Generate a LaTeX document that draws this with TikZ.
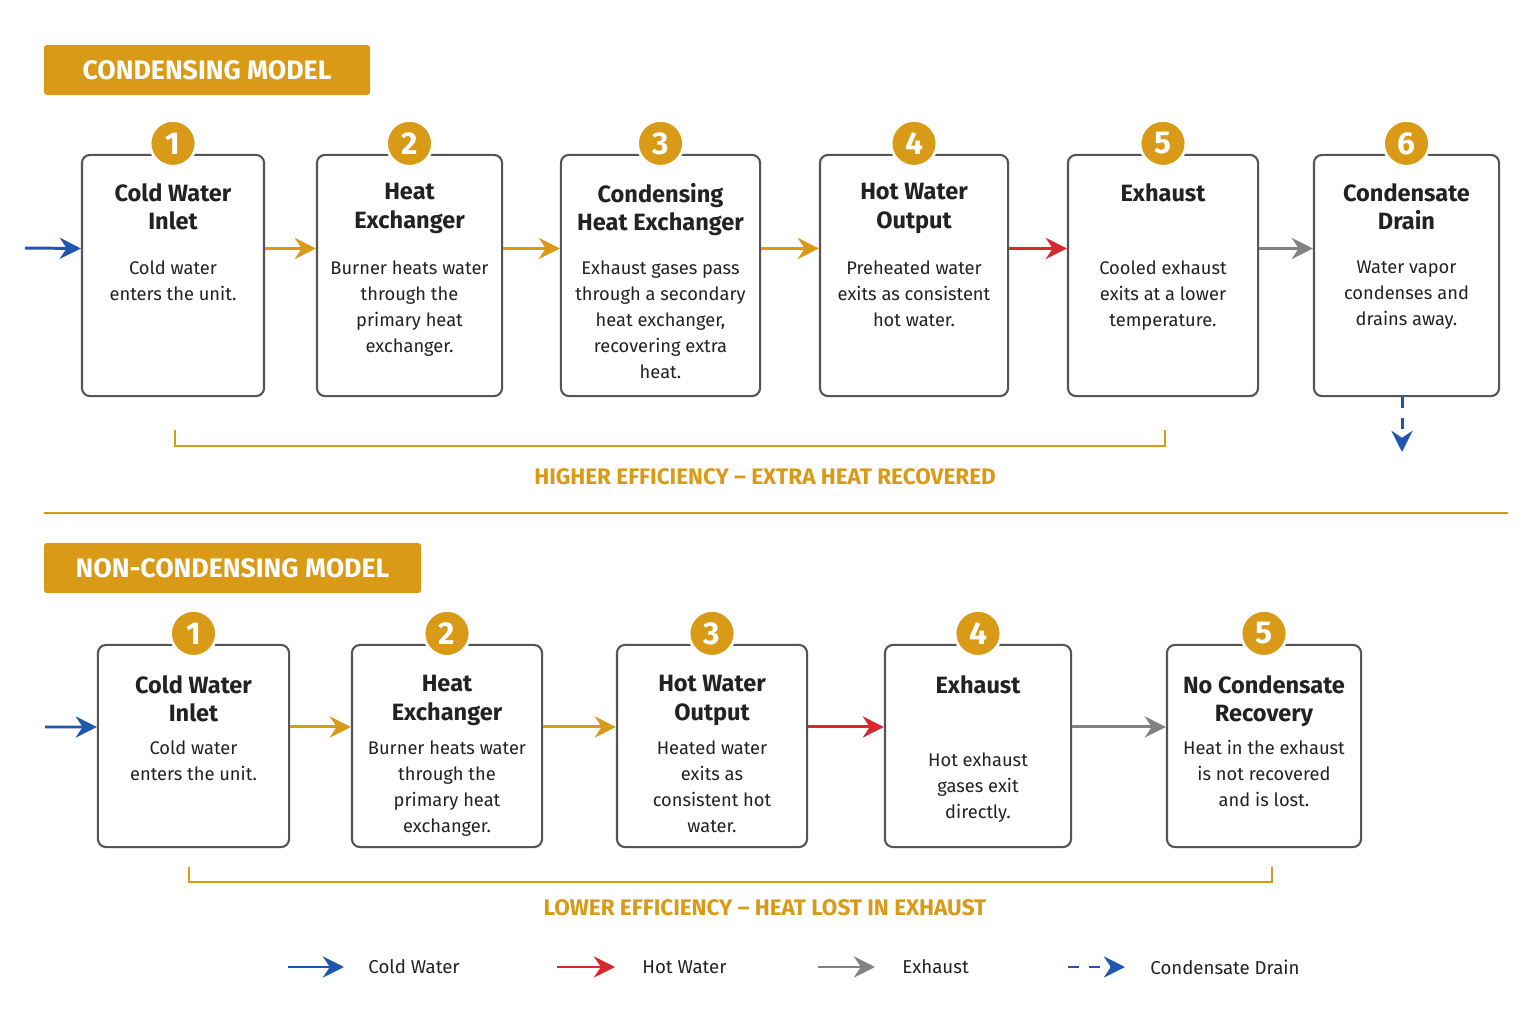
\documentclass[tikz,border=0pt]{standalone}
\usepackage{fontspec}
\setmainfont{Fira Sans}
\usetikzlibrary{arrows.meta,positioning}
\definecolor{gold}{HTML}{D99A17}
\definecolor{cwblue}{HTML}{1F56B0}
\definecolor{hwred}{HTML}{D8282E}
\definecolor{exgray}{HTML}{828282}
\definecolor{boxline}{HTML}{555555}
\definecolor{txt}{HTML}{222222}

\tikzset{
  box/.style={draw=boxline, line width=0.6pt, rounded corners=0.08cm, fill=white},
  num/.style={circle, fill=gold, draw=white, line width=0.8pt, minimum size=0.46cm, inner sep=0pt,
    text=white, font=\fontsize{9}{9}\selectfont\bfseries},
  ttl/.style={anchor=north, align=center, inner sep=0pt, text=txt, font=\fontsize{6.7}{8}\selectfont\bfseries},
  bdy/.style={anchor=north, align=center, inner sep=0pt, text=txt, font=\fontsize{5.2}{7.4}\selectfont},
  flow/.style={line width=0.85pt, -{Stealth[length=6pt,width=6pt]}},
  header/.style={fill=gold, rounded corners=0.03cm, text=white, inner sep=0pt, font=\fontsize{7.6}{9}\selectfont\bfseries},
  brace/.style={draw=gold, line width=0.5pt},
  effic/.style={text=gold, font=\fontsize{6.4}{8}\selectfont\bfseries},
  legend/.style={anchor=west, text=txt, font=\fontsize{5.3}{7}\selectfont}
}

% name, x, y, width, height, number, title, body (offsets from \ttloff, \bdyoff)
\newcommand{\stepbox}[8]{%
  \node[box, minimum width=#4cm, minimum height=#5cm] (#1) at (#2,#3) {};
  \node[num] (#1n) at ([yshift=0.105cm]#1.north) {#6};
  \node[ttl] (#1t) at ([yshift=-\ttloff cm]#1.north) {#7};
  \node[bdy] (#1b) at ([yshift=-\bdyoff cm]#1.north) {#8};
}

\begin{document}
\begin{tikzpicture}[x=0.01cm,y=-0.01cm]
\useasboundingbox (0,0) rectangle (1535,1024);

%Condensing model
\node[header, minimum width=3.26cm, minimum height=0.5cm] (hc) at (207,70) {CONDENSING MODEL};

\def\ttloff{0.29}\def\bdyoff{1.06}
\stepbox{c1}{173}{275.5}{1.82}{2.41}{1}{Cold Water\\Inlet}{Cold water\\enters the unit.}
\stepbox{c2}{409.5}{275.5}{1.85}{2.41}{2}{Heat\\Exchanger}{Burner heats water\\through the\\primary heat\\exchanger.}
\stepbox{c3}{660.5}{275.5}{1.99}{2.41}{3}{Condensing\\Heat Exchanger}{Exhaust gases pass\\through a secondary\\heat exchanger,\\recovering extra\\heat.}
\stepbox{c4}{914}{275.5}{1.88}{2.41}{4}{Hot Water\\Output}{Preheated water\\exits as consistent\\hot water.}
\stepbox{c5}{1163}{275.5}{1.90}{2.41}{5}{Exhaust}{Cooled exhaust\\exits at a lower\\temperature.}
\stepbox{c6}{1406.5}{275.5}{1.85}{2.41}{6}{Condensate\\Drain}{Water vapor\\condenses and\\drains away.}

\coordinate (cin) at (25,248);
\coordinate (cdrain) at (1402,452);
\draw[flow, cwblue] (cin) -- ([yshift=0.27cm]c1.west);
\draw[flow, gold] ([yshift=0.27cm]c1.east) -- ([yshift=0.27cm]c2.west);
\draw[flow, gold] ([yshift=0.27cm]c2.east) -- ([yshift=0.27cm]c3.west);
\draw[flow, gold] ([yshift=0.27cm]c3.east) -- ([yshift=0.27cm]c4.west);
\draw[flow, hwred] ([yshift=0.27cm]c4.east) -- ([yshift=0.27cm]c5.west);
\draw[flow, exgray] ([yshift=0.27cm]c5.east) -- ([yshift=0.27cm]c6.west);
\draw[flow, cwblue, dashed] (c6.south -| cdrain) -- (cdrain);

\draw[brace] (175,430) -- (175,446) -- (1165,446) -- (1165,430);
\node[effic] (ch) at (765,477) {HIGHER EFFICIENCY – EXTRA HEAT RECOVERED};

\draw[gold, line width=0.5pt] (44,513) -- (1508,513);

%Non-condensing model
\node[header, minimum width=3.77cm, minimum height=0.5cm] (hn) at (232.5,568) {NON-CONDENSING MODEL};

\def\ttloff{0.31}\def\bdyoff{0.96}
\stepbox{n1}{193.5}{746}{1.91}{2.02}{1}{Cold Water\\Inlet}{Cold water\\enters the unit.}
\stepbox{n2}{447}{746}{1.90}{2.02}{2}{Heat\\Exchanger}{Burner heats water\\through the\\primary heat\\exchanger.}
\stepbox{n3}{712}{746}{1.90}{2.02}{3}{Hot Water\\Output}{Heated water\\exits as\\consistent hot\\water.}
\stepbox{n4}{978}{746}{1.86}{2.02}{4}{Exhaust}{\\Hot exhaust\\gases exit\\directly.}
\stepbox{n5}{1264}{746}{1.94}{2.02}{5}{No Condensate\\Recovery}{Heat in the exhaust\\is not recovered\\and is lost.}

\coordinate (nin) at (45,727);
\draw[flow, cwblue] (nin) -- ([yshift=0.19cm]n1.west);
\draw[flow, gold] ([yshift=0.19cm]n1.east) -- ([yshift=0.19cm]n2.west);
\draw[flow, gold] ([yshift=0.19cm]n2.east) -- ([yshift=0.19cm]n3.west);
\draw[flow, hwred] ([yshift=0.19cm]n3.east) -- ([yshift=0.19cm]n4.west);
\draw[flow, exgray] ([yshift=0.19cm]n4.east) -- ([yshift=0.19cm]n5.west);

\draw[brace] (189,867) -- (189,882) -- (1272,882) -- (1272,867);
\node[effic] (nl) at (765,908) {LOWER EFFICIENCY – HEAT LOST IN EXHAUST};

%Legend
\coordinate (l1a) at (288,967); \coordinate (l1b) at (344,967);
\coordinate (l2a) at (557,967); \coordinate (l2b) at (615,967);
\coordinate (l3a) at (818,967); \coordinate (l3b) at (875,967);
\coordinate (l4a) at (1068,967); \coordinate (l4b) at (1125,967);
\draw[flow, cwblue] (l1a) -- (l1b);
\draw[flow, hwred] (l2a) -- (l2b);
\draw[flow, exgray] (l3a) -- (l3b);
\draw[flow, cwblue, dashed] (l4a) -- (l4b);
\node[legend] (lt1) at (356,967) {Cold Water};
\node[legend] (lt2) at (630,967) {Hot Water};
\node[legend] (lt3) at (890,967) {Exhaust};
\node[legend] (lt4) at (1138,967) {Condensate Drain};

\end{tikzpicture}
\end{document}
